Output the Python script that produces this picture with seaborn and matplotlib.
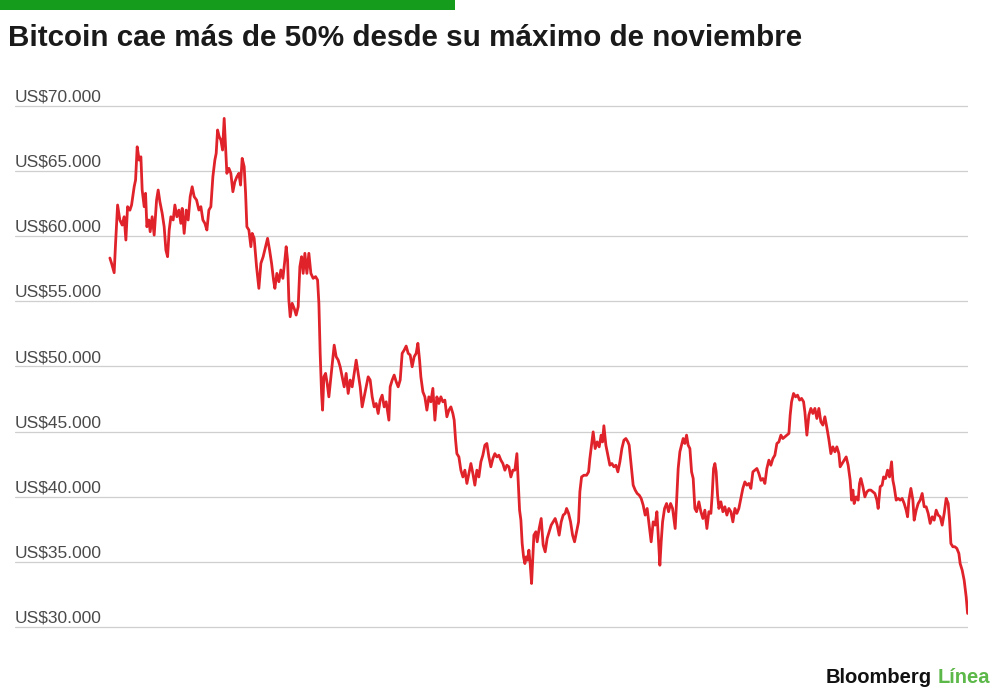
import numpy as np
import pandas as pd
import matplotlib
matplotlib.use("Agg")
import matplotlib.pyplot as plt
from matplotlib.patches import Rectangle
import seaborn as sns

# ---------------- data ----------------
start_time = "2021-10-13 21:00"   # first point of the series

# days elapsed since start_time
days = [
    0.00, 0.41, 1.04, 1.38, 1.87, 2.42, 2.98, 3.47, 3.88, 4.29,
    4.85, 5.26, 5.89, 6.23, 6.62, 7.10, 7.52, 7.83, 8.32, 8.65,
    8.97, 9.45, 9.77, 10.25, 10.74, 11.32, 11.71, 12.12, 12.68, 13.16,
    13.58, 13.99, 14.38, 14.79, 15.35, 15.76, 16.24, 16.73, 17.21, 17.53,
    18.01, 18.50, 18.98, 19.47, 19.95, 20.44, 21.02, 21.58, 22.06, 22.55,
    23.03, 23.52, 24.00, 24.48, 24.97, 25.45, 25.77, 26.11, 26.50, 26.91,
    27.32, 27.71, 28.05, 28.36, 28.85, 29.33, 29.82, 30.30, 30.79, 31.27,
    31.68, 32.07, 32.56, 32.90, 33.21, 33.70, 34.18, 34.50, 34.98, 35.56,
    36.12, 36.61, 37.16, 37.75, 38.23, 38.72, 39.20, 39.68, 40.00, 40.48,
    40.97, 41.45, 41.94, 42.42, 42.74, 43.08, 43.39, 43.71, 44.19, 44.68,
    45.16, 45.65, 46.06, 46.47, 46.86, 47.27, 47.76, 48.24, 48.73, 49.28,
    49.87, 50.35, 50.67, 50.98, 51.32, 51.56, 51.88, 52.29, 52.68, 53.09,
    53.58, 53.99, 54.38, 54.86, 55.35, 55.83, 56.32, 56.80, 57.28, 57.77,
    58.25, 58.74, 59.22, 59.71, 60.19, 60.68, 61.16, 61.65, 62.13, 62.62,
    63.10, 63.59, 64.07, 64.56, 65.04, 65.53, 66.01, 66.50, 66.98, 67.64,
    67.95, 68.44, 68.92, 69.41, 69.89, 70.38, 70.86, 71.35, 71.83, 72.32,
    72.80, 73.28, 73.77, 74.25, 74.67, 75.08, 75.39, 75.88, 76.36, 76.85,
    77.33, 77.82, 78.30, 78.79, 79.27, 79.76, 80.24, 80.73, 81.21, 81.70,
    82.18, 82.67, 83.15, 83.47, 83.81, 84.12, 84.61, 85.09, 85.58, 86.06,
    86.55, 87.03, 87.52, 88.00, 88.48, 88.97, 89.45, 89.94, 90.42, 90.91,
    91.39, 91.88, 92.36, 92.85, 93.33, 93.82, 94.30, 94.79, 95.27, 95.76,
    96.24, 96.73, 97.21, 97.70, 98.18, 98.67, 98.98, 99.32, 99.64, 99.95,
    100.29, 100.61, 100.92, 101.26, 101.58, 101.89, 102.23, 102.79, 103.27, 103.59,
    104.07, 104.56, 105.04, 105.53, 106.01, 106.50, 106.98, 107.47, 107.95, 108.44,
    108.92, 109.41, 109.89, 110.38, 110.72, 111.20, 111.68, 112.17, 112.65, 113.14,
    113.62, 113.94, 114.35, 114.91, 115.56, 116.05, 116.36, 116.85, 117.16, 117.65,
    118.13, 118.62, 119.10, 119.44, 119.76, 120.24, 120.73, 121.21, 121.70, 122.18,
    122.67, 123.15, 123.64, 124.12, 124.61, 125.09, 125.58, 125.89, 126.38, 126.86,
    127.35, 127.83, 128.32, 128.80, 129.28, 129.77, 130.25, 130.74, 131.22, 131.71,
    132.19, 132.61, 133.02, 133.33, 133.65, 133.99, 134.47, 134.96, 135.44, 135.93,
    136.41, 136.73, 137.04, 137.38, 137.77, 138.18, 138.59, 138.98, 139.39, 139.80,
    140.19, 140.61, 141.02, 141.41, 141.82, 142.23, 142.79, 143.27, 143.76, 144.24,
    144.73, 145.21, 145.70, 146.01, 146.35, 146.67, 146.98, 147.32, 147.64, 148.12,
    148.61, 149.09, 149.58, 150.06, 150.55, 151.03, 151.52, 152.00, 152.48, 152.97,
    153.45, 153.94, 154.42, 154.91, 155.39, 155.88, 156.36, 156.85, 157.33, 157.82,
    158.30, 158.79, 159.27, 159.76, 160.24, 160.73, 161.21, 161.70, 162.18, 162.67,
    163.15, 163.64, 164.12, 164.61, 164.92, 165.26, 165.74, 166.23, 166.71, 167.20,
    167.68, 168.17, 168.48, 168.97, 169.45, 169.94, 170.42, 170.91, 171.39, 171.88,
    172.36, 172.85, 173.33, 173.82, 174.30, 174.79, 175.27, 175.76, 176.24, 176.73,
    177.04, 177.53, 178.01, 178.50, 178.98, 179.47, 179.80, 180.12, 180.43, 180.92,
    181.40, 181.74, 182.06, 182.55, 183.03, 183.52, 184.00, 184.48, 184.97, 185.45,
    185.94, 186.25, 186.74, 187.22, 187.56, 188.04, 188.53, 189.01, 189.50, 189.82,
    190.13, 190.62, 191.10, 191.59, 192.07, 192.56, 193.04, 193.38, 193.70, 194.18,
    194.67, 194.98, 195.47, 195.95, 196.44, 196.92, 197.41, 197.89, 198.38, 198.86,
    199.35, 199.83, 200.32, 200.80, 201.29, 201.77, 202.26, 202.74, 203.23, 203.56,
    203.88, 204.36, 204.85, 205.33, 205.82, 206.13, 206.62, 207.10, 207.59, 207.93,
]

# Bitcoin price, US$
price = [
    58330, 57920, 57200, 59450, 62400, 61250, 60860, 61500, 59710, 62270,
    62000, 62400, 63800, 64320, 66870, 65850, 66100, 63550, 62270, 63300,
    60730, 61250, 60350, 61500, 60090, 62780, 63550, 62660, 61760, 60730,
    58940, 58430, 60480, 61500, 61250, 62400, 61500, 62010, 60990, 62140,
    60220, 62010, 61250, 63040, 63800, 63040, 62780, 62010, 62270, 61250,
    60990, 60480, 62010, 62270, 64570, 65850, 66360, 68160, 67650, 67390,
    66620, 69050, 66870, 64830, 65220, 64830, 63420, 64190, 64570, 64830,
    63930, 65980, 65340, 63300, 60730, 60480, 59200, 60220, 59840, 57660,
    56000, 57920, 58430, 59200, 59840, 58940, 57920, 56640, 56000, 57150,
    56510, 57410, 56770, 58170, 59200, 58170, 55100, 53820, 54850, 54460,
    53950, 54590, 57660, 58430, 57150, 58690, 57150, 58690, 57150, 56770,
    56900, 56640, 54850, 51010, 47930, 46650, 49210, 49470, 48700, 47670,
    49210, 50490, 51640, 50750, 50490, 49980, 49210, 48440, 49470, 47930,
    48960, 48440, 49470, 50490, 49470, 48440, 46900, 47670, 48440, 49210,
    48960, 47670, 46900, 47160, 46390, 47420, 47800, 46900, 47290, 45880,
    48440, 48960, 49340, 48830, 48440, 48960, 51010, 51260, 51570, 51010,
    50880, 49980, 50750, 51010, 51780, 50490, 49210, 48060, 47670, 46650,
    47670, 47290, 48320, 45880, 47670, 47160, 47670, 47290, 47420, 46140,
    46650, 46900, 46390, 45880, 44340, 43310, 43060, 42040, 41520, 42040,
    41020, 41780, 42550, 41780, 40890, 42040, 41520, 42680, 43190, 43960,
    44090, 43060, 42300, 42930, 43310, 43060, 43190, 42810, 42550, 42040,
    42420, 42300, 41520, 42040, 42040, 43310, 41260, 38970, 38200, 36410,
    35380, 34870, 35380, 35130, 35900, 34870, 33340, 37050, 37310, 36540,
    37560, 38330, 36290, 35770, 36800, 37310, 37820, 38070, 38330, 37820,
    37050, 38070, 38590, 38720, 39100, 38720, 38070, 37050, 36540, 37310,
    38070, 40390, 41520, 41650, 41650, 41910, 42930, 44210, 44980, 43700,
    44210, 43830, 44730, 44210, 45450, 43960, 43190, 42420, 42550, 42300,
    42420, 41910, 42680, 43700, 44340, 44470, 44210, 43960, 42420, 40890,
    40510, 40250, 40120, 39870, 39360, 38590, 39100, 37820, 36540, 38070,
    37820, 38850, 36540, 34740, 36540, 38070, 39100, 39480, 38850, 39480,
    39100, 38330, 37560, 39610, 42170, 43450, 43960, 44470, 44090, 44730,
    43960, 43700, 41910, 41400, 39100, 38850, 39610, 38850, 38330, 38970,
    37560, 38850, 38720, 40120, 42170, 42550, 41910, 40120, 39100, 39610,
    38850, 39230, 38590, 39100, 38850, 38070, 39100, 38720, 39100, 39870,
    40640, 41140, 40890, 41020, 40640, 41910, 42040, 42170, 41780, 41260,
    41400, 41020, 42170, 42810, 42420, 42930, 43190, 44090, 44210, 44730,
    44470, 44600, 44730, 44860, 46270, 47290, 47930, 47670, 47800, 47420,
    47550, 47290, 46520, 44730, 46270, 46780, 46390, 46780, 46010, 46780,
    45750, 45500, 46140, 45300, 44400, 43310, 43830, 43450, 43830, 43310,
    42300, 42550, 42810, 43060, 42420, 41260, 39740, 40510, 39480, 39990,
    39740, 41020, 41400, 40770, 39990, 40380, 40510, 40510, 40380, 40250,
    39740, 39100, 40770, 40890, 41520, 41400, 42040, 41520, 42680, 41260,
    40770, 39740, 39870, 39740, 39870, 39480, 38970, 38460, 39740, 40640,
    39740, 38200, 38970, 39480, 39740, 40250, 39230, 39230, 38720, 37950,
    38460, 38200, 38970, 38590, 38460, 37820, 38720, 39870, 39480, 38200,
    36410, 36160, 36160, 36030, 35640, 34870, 34360, 33590, 32310, 31040,
]

y_ticks = [30000, 35000, 40000, 45000, 50000, 55000, 60000, 65000, 70000]
y_tick_labels = ["US$30.000", "US$35.000", "US$40.000", "US$45.000", "US$50.000",
                 "US$55.000", "US$60.000", "US$65.000", "US$70.000"]

title_text = "Bitcoin cae más de 50% desde su máximo de noviembre"
brand_1 = "Bloomberg"
brand_2 = "Línea"

# ---------------- figure ----------------
sns.set_theme(style="white")
plt.rcParams["font.family"] = ["Liberation Sans", "DejaVu Sans"]

df = pd.DataFrame({
    "fecha": pd.Timestamp(start_time) + pd.to_timedelta(days, unit="D"),
    "precio": price,
})

W, H = 1000, 696
fig = plt.figure(figsize=(W / 100, H / 100), dpi=100)
fig.patch.set_facecolor("white")

# axes spans gridline extent; y 29000..71000
ax_left, ax_right = 15, 968
ax_top, ax_bot = 93, 640
ax = fig.add_axes([ax_left / W, 1 - ax_bot / H, (ax_right - ax_left) / W, (ax_bot - ax_top) / H])
ax.set_facecolor("white")

sns.lineplot(data=df, x="fecha", y="precio", ax=ax, color="#e0222a",
             linewidth=2.0, estimator=None, zorder=3)

t0 = df["fecha"].iloc[0]
t1 = df["fecha"].iloc[-1]
ax.set_xlim(t0 - pd.Timedelta(days=23.0), t1 + pd.Timedelta(days=0.1))
ax.set_ylim(29000, 71000)

ax.set_yticks(y_ticks)
ax.set_xticks([])
ax.tick_params(axis="y", length=0, labelleft=False)
ax.grid(axis="y", color="#cfcfcf", linewidth=0.9)
ax.grid(axis="x", visible=False)
for s in ax.spines.values():
    s.set_visible(False)
ax.set_xlabel("")
ax.set_ylabel("")

for v, lab in zip(y_ticks, y_tick_labels):
    ax.annotate(lab, xy=(0, v), xycoords=("axes fraction", "data"),
                xytext=(0, 3.2), textcoords="offset points",
                ha="left", va="baseline", fontsize=12.5, color="#4a4a4a")

# green bar on top
fig.patches.append(Rectangle((0, 1 - 10 / H), 455 / W, 10 / H, transform=fig.transFigure,
                             facecolor="#169c1c", edgecolor="none"))

# title
fig.text(8 / W, 1 - 46 / H, title_text, ha="left", va="baseline",
         fontsize=21.3, fontweight="bold", color="#1a1a1a")

# brand
fig.text(826 / W, 1 - 683 / H, brand_1, ha="left", va="baseline",
         fontsize=14.5, fontweight="bold", color="#111111")
fig.text(938 / W, 1 - 683 / H, brand_2, ha="left", va="baseline",
         fontsize=14.5, fontweight="bold", color="#5cb848")

fig.savefig("out.png", dpi=100, facecolor="white")
